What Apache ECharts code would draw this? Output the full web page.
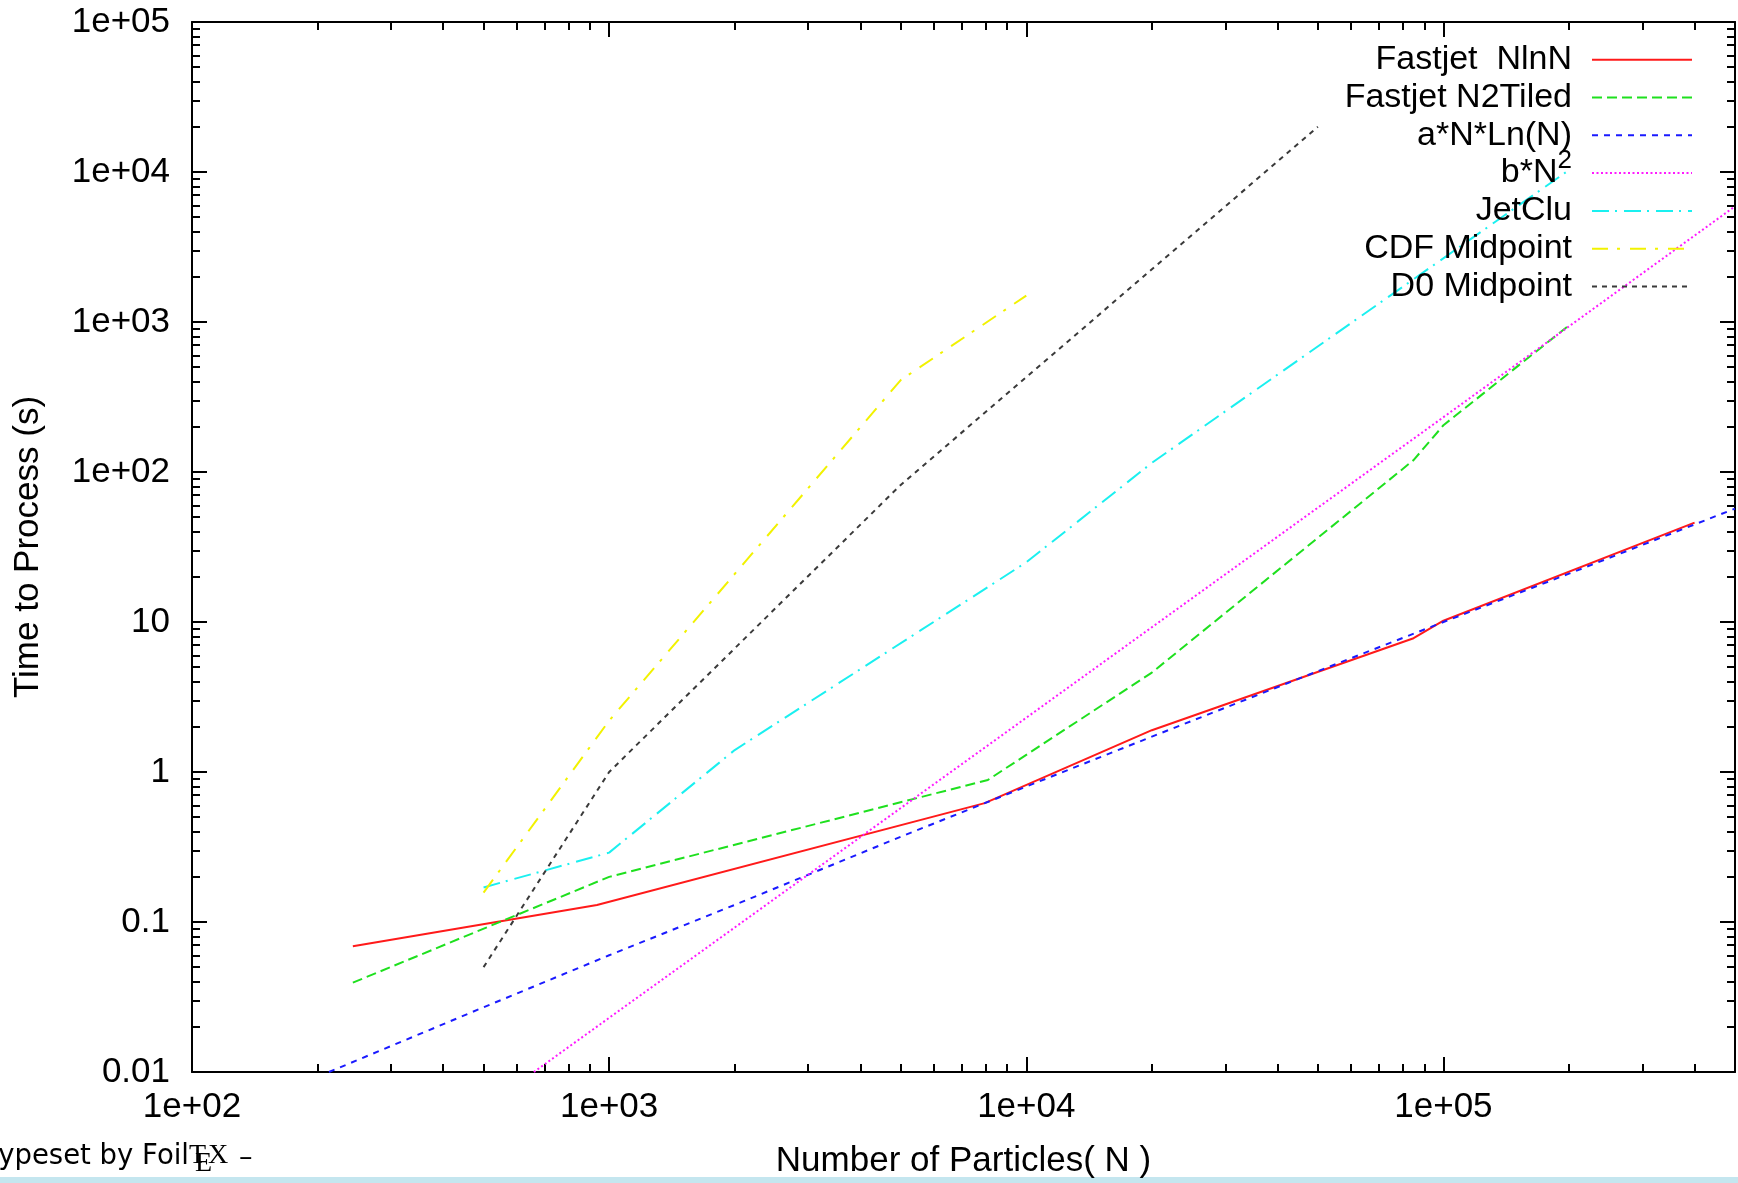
<!DOCTYPE html>
<html>
<head>
<meta charset="utf-8">
<script src="https://cdn.jsdelivr.net/npm/echarts@6/dist/echarts.min.js"></script>
<style>
html,body{margin:0;padding:0;background:#fff}
#myChart{width:1738px;height:1183px}
</style>
</head>
<body>
<div id="myChart"></div>
<script>
// 读图得到的数据 (N, 秒)
let nlnnN=[243,935,7950,20000,84800,100000,400000]
let nlnnT=[0.069,0.13,0.62,1.9,7.8,10.2,46]
let tiledN=[243,1000,8090,20000,84800,100000,200000]
let tiledT=[0.0394,0.2,0.885,4.6,120,205,950]
let fitAN=[213,500,1000,2000,5000,10000,20000,50000,100000,200000,500000]
let fitAT=[0.01,0.027,0.06,0.13,0.37,0.8,1.72,4.7,10,21,57]
let fitBN=[660,10000,100000,500000]
let fitBT=[0.01,2.3,232,5900]
let jetcluN=[500,1000,2000,10000,20000,200000]
let jetcluT=[0.17,0.29,1.4,25,115,10300]
let cdfN=[500,1000,5000,10000]
let cdfT=[0.157,2.2,410,1500]
let d0N=[500,1000,5000,50000]
let d0T=[0.05,1.0,82,20000]

let xTickVals=[100,1000,10000,100000]
let xTickText=['1e+02','1e+03','1e+04','1e+05']
let yTickVals=[0.01,0.1,1,10,100,1000,10000,100000]
let yTickText=['0.01','0.1','1','10','1e+02','1e+03','1e+04','1e+05']

let font='"Liberation Sans", Arial, sans-serif'

function minorTicks(lo,hi){
  let arr=[]
  for(let e=Math.floor(Math.log10(lo));e<=Math.ceil(Math.log10(hi));e++){
    for(let k=2;k<=9;k++){
      let v=+(k*Math.pow(10,e)).toPrecision(6)
      if(v>lo&&v<hi) arr.push(v)
    }
  }
  return arr
}
function pick(vals,texts){
  return function(v){
    let i=vals.findIndex(t=>Math.abs(Math.log10(t)-Math.log10(v))<1e-6)
    return i<0?'':texts[i]
  }
}
function pairs(xs,ys){
  return xs.map((x,i)=>[x,ys[i]])
}

let xMin=100,xMax=500000,yMin=0.01,yMax=100000
let xMinor=minorTicks(xMin,xMax)
let yMinor=minorTicks(yMin,yMax)

let lineAxis={show:true,onZero:false,lineStyle:{color:'#000',width:2}}
function xAxisOf(pos,major,label){
  return {
    type:'log',logBase:10,min:xMin,max:xMax,position:pos,
    axisLine:major?lineAxis:{show:false},
    axisTick:{show:true,inside:true,length:major?15:8,customValues:major?xTickVals:xMinor,lineStyle:{color:'#000',width:2}},
    axisLabel:label?{show:true,customValues:xTickVals,formatter:pick(xTickVals,xTickText),margin:18,color:'#000',fontSize:35,fontFamily:font}:{show:false},
    splitLine:{show:false},minorTick:{show:false},
    name:label?'Number of Particles( N )':'',
    nameLocation:'middle',nameGap:72,
    nameTextStyle:{color:'#000',fontSize:35,fontFamily:font}
  }
}
function yAxisOf(pos,major,label){
  return {
    type:'log',logBase:10,min:yMin,max:yMax,position:pos,
    axisLine:major?lineAxis:{show:false},
    axisTick:{show:true,inside:true,length:major?15:8,customValues:major?yTickVals:yMinor,lineStyle:{color:'#000',width:2}},
    axisLabel:label?{show:true,customValues:yTickVals,formatter:pick(yTickVals,yTickText),margin:22,color:'#000',fontSize:35,fontFamily:font}:{show:false},
    splitLine:{show:false},minorTick:{show:false},
    name:label?'Time to Process (s)':'',
    nameLocation:'middle',nameGap:146,
    nameTextStyle:{color:'#000',fontSize:35,fontFamily:font}
  }
}
function lineSeries(name,data,color,dash){
  return {
    name:name,type:'line',data:data,
    xAxisIndex:0,yAxisIndex:0,
    symbol:'none',showSymbol:false,
    lineStyle:{color:color,width:2,type:dash},
    itemStyle:{color:color},
    emphasis:{disabled:true},
    clip:true
  }
}

let myChart=echarts.init(document.getElementById('myChart'))
let options={
  animation:false,
  backgroundColor:'#fff',
  grid:{left:192,right:3,top:22,bottom:111,containLabel:false,outerBoundsMode:'none'},
  xAxis:[xAxisOf('bottom',true,true),xAxisOf('bottom',false,false),xAxisOf('top',true,false),xAxisOf('top',false,false)],
  yAxis:[yAxisOf('left',true,true),yAxisOf('left',false,false),yAxisOf('right',true,false),yAxisOf('right',false,false)],
  legend:{
    orient:'vertical',align:'right',
    right:45,top:34.7,padding:0,
    itemWidth:100,itemHeight:14,itemGap:-4.2,
    selectedMode:false,
    itemStyle:{color:'rgba(0,0,0,0)',borderWidth:0,opacity:0},
    // 每行都带同样的上标占位, 行高一致
    formatter:function(name){
      return name==='b*N2'?'b*N{s|2}':name+'{s|\u200b}'
    },
    textStyle:{color:'#000',fontSize:34,fontFamily:font,lineHeight:30,padding:[0,15,0,0],
      rich:{s:{fontSize:26,fontFamily:font,color:'#000',lineHeight:8,verticalAlign:'bottom',padding:[0,0,14,0]}}}
  },
  series:[
    lineSeries('Fastjet  NlnN',pairs(nlnnN,nlnnT),'#ff1a1a','solid'),
    lineSeries('Fastjet N2Tiled',pairs(tiledN,tiledT),'#1ee01e',[10,5]),
    lineSeries('a*N*Ln(N)',pairs(fitAN,fitAT),'#1a1aff',[6,6]),
    lineSeries('b*N2',pairs(fitBN,fitBT),'#ff1aff',[2,2.5]),
    lineSeries('JetClu',pairs(jetcluN,jetcluT),'#1af0f0',[17,6,2,7]),
    lineSeries('CDF Midpoint',pairs(cdfN,cdfT),'#f2f200',[16,9,3,10]),
    lineSeries('D0 Midpoint',pairs(d0N,d0T),'#3a3a3a',[5,5])
  ],
  graphic:[
    {type:'text',style:{text:'ypeset by Foil',x:189,y:1171,align:'right',verticalAlign:'bottom',font:'27.5px "DejaVu Sans", sans-serif',fill:'#000'}},
    {type:'text',style:{text:'T',x:189,y:1170,align:'left',verticalAlign:'bottom',font:'28px "Liberation Serif", serif',fill:'#000'}},
    {type:'text',style:{text:'E',x:195,y:1178,align:'left',verticalAlign:'bottom',font:'28px "Liberation Serif", serif',fill:'#000'}},
    {type:'text',style:{text:'X',x:208,y:1170,align:'left',verticalAlign:'bottom',font:'28px "Liberation Serif", serif',fill:'#000'}},
    {type:'text',style:{text:'\u2013',x:239,y:1171,align:'left',verticalAlign:'bottom',font:'27px "DejaVu Sans", sans-serif',fill:'#000'}},
    {type:'rect',left:0,top:1177,shape:{width:1738,height:6},style:{fill:'#c4e6ef'},silent:true}
  ]
}
myChart.setOption(options)
</script>
</body>
</html>
